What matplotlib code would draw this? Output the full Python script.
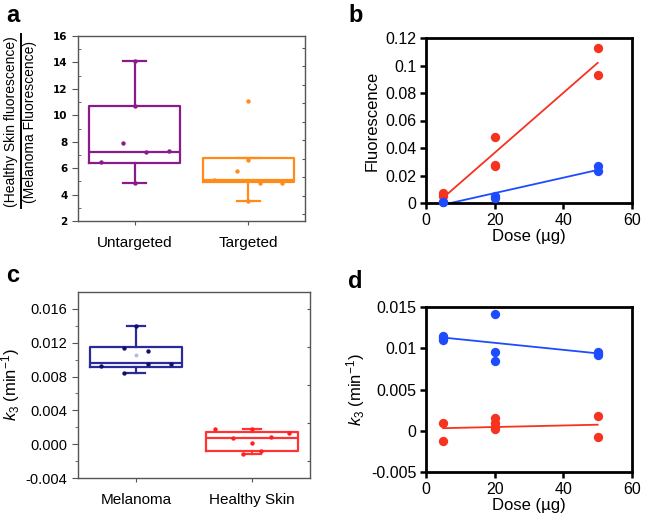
import numpy as np
import matplotlib
matplotlib.use('Agg')
import matplotlib.pyplot as plt
from matplotlib.lines import Line2D

plt.rcParams['font.family'] = ['Liberation Sans', 'DejaVu Sans']
plt.rcParams['mathtext.fontset'] = 'custom'
plt.rcParams['mathtext.rm'] = 'Liberation Sans'
plt.rcParams['mathtext.it'] = 'Liberation Sans:italic'

# panel a: fluorescence ratio boxes
a_groups = ['Untargeted', 'Targeted']
a_box = [  # whislo, q1, med, q3, whishi
    [4.9, 6.4, 7.25, 10.7, 14.1],
    [3.55, 4.95, 5.1, 6.75, 6.75],
]
a_points = [
    [6.5, 7.9, 10.7, 14.1, 4.9, 7.2, 7.3],
    [5.1, 5.8, 6.6, 11.1, 3.5, 4.9, 4.9],
]
a_offsets = [-0.3, -0.1, 0.0, 0.0, 0.0, 0.1, 0.3]
a_colors = ['#8b1a8b', '#ff8c1a']

# panel b: fluorescence vs dose
b_red_x = [5, 5, 20, 20, 20, 50, 50]
b_red_y = [0.007, 0.005, 0.048, 0.028, 0.027, 0.113, 0.093]
b_blue_x = [5, 5, 20, 20, 50, 50]
b_blue_y = [0.001, 0.0005, 0.005, 0.0035, 0.027, 0.023]

# panel c: k3 boxes
c_groups = ['Melanoma', 'Healthy Skin']
c_box = [
    [0.0084, 0.0091, 0.0096, 0.0115, 0.0140],
    [-0.0012, -0.0008, 0.0007, 0.0014, 0.0018],
]
c_means = [0.0105, 0.0001]
c_points = [
    [0.0092, 0.0114, 0.0084, 0.0140, 0.0110, 0.0095, 0.0095],
    [0.0018, 0.0007, -0.0012, 0.0001, 0.0018, -0.0008, 0.0008, 0.0013],
]
c_offsets = [
    [-0.3, -0.1, -0.1, 0.0, 0.1, 0.1, 0.3],
    [-0.32, -0.16, -0.08, 0.0, 0.0, 0.08, 0.16, 0.32],
]
c_colors = ['#2a2a9a', '#ff3333']
c_dot_colors = ['#10106e', '#ff2020']

# panel d: k3 vs dose
d_blue_x = [5, 5, 5, 20, 20, 20, 50, 50, 50]
d_blue_y = [0.0113, 0.0110, 0.0115, 0.0141, 0.0096, 0.0084, 0.0096, 0.0093, 0.0092]
d_red_x = [5, 5, 20, 20, 20, 20, 50, 50]
d_red_y = [0.0009, -0.0012, 0.0015, 0.0010, 0.0005, 0.0002, 0.0018, -0.0008]

RED = '#f5331f'
BLUE = '#1f4bff'

W, H = 645, 531
fig = plt.figure(figsize=(W / 100, H / 100), dpi=100)


def px_axes(x0, y0, x1, y1):
	return fig.add_axes([x0 / W, 1 - y1 / H, (x1 - x0) / W, (y1 - y0) / H])


def box_panel(ax, boxes, colors, capw):
	stats = []
	for b in boxes:
		stats.append(dict(whislo=b[0], q1=b[1], med=b[2], q3=b[3], whishi=b[4], fliers=[]))
	for i, s in enumerate(stats):
		c = colors[i]
		ax.bxp([s], positions=[i + 1], widths=0.8, showfliers=False,
			boxprops=dict(color=c, lw=1.6), medianprops=dict(color=c, lw=1.6),
			whiskerprops=dict(color=c, lw=1.6), capprops=dict(color=c, lw=1.6),
			capwidths=capw)
	ax.set_xlim(0.5, 2.5)
	for sp in ax.spines.values():
		sp.set_color('#555555')
		sp.set_linewidth(1.0)


# ---- a
ax = px_axes(78, 36, 305, 221)
box_panel(ax, a_box, a_colors, 0.2)
for i, pts in enumerate(a_points):
	ax.scatter(np.array(a_offsets) + i + 1, pts, s=10, color=a_colors[i], zorder=3, lw=0)
ax.set_ylim(2, 16)
ax.set_yticks(range(2, 17, 2))
ax.set_yticks(range(3, 16, 2), minor=True)
ax.set_xticks([1, 2])
ax.set_xticklabels(a_groups, fontsize=11)
ax.tick_params(axis='y', labelsize=7.5, length=4, color='#555555')
ax.tick_params(axis='y', which='minor', length=2, direction='in', color='#555555')
ax.tick_params(axis='x', length=3, color='#555555', pad=8)
for t in ax.get_yticklabels():
	t.set_fontweight('bold')
	t.set_family('DejaVu Sans')
ax2 = ax.secondary_yaxis('right')
ax2.set_yticks(np.arange(2.5, 16, 1.4))
ax2.tick_params(direction='in', length=2, labelright=False, color='#555555')
ax2.spines['right'].set_visible(False)

# stacked ratio label for panel a
fig.text(11 / W, 1 - 122 / H, '(Healthy Skin fluorescence)', rotation=90,
	ha='center', va='center', fontsize=10)
fig.text(30.5 / W, 1 - 122 / H, '(Melanoma Fluorescence)', rotation=90,
	ha='center', va='center', fontsize=10)
fig.add_artist(Line2D([20.5 / W, 20.5 / W], [1 - 208 / H, 1 - 34 / H], color='black', lw=1.4))

# ---- b
ax = px_axes(426, 38, 632, 203)
for xs, ys, c in [(b_red_x, b_red_y, RED), (b_blue_x, b_blue_y, BLUE)]:
	ax.scatter(xs, ys, s=45, color=c, zorder=3, lw=0, clip_on=False)
	p = np.polyfit(xs, ys, 1)
	xl = np.array([5, 50])
	ax.plot(xl, np.polyval(p, xl), color=c, lw=1.3)
ax.set_xlim(0, 60)
ax.set_ylim(0, 0.12)
ax.set_xticks([0, 20, 40, 60])
ax.set_yticks([0, 0.02, 0.04, 0.06, 0.08, 0.1, 0.12])
ax.set_yticklabels(['0', '0.02', '0.04', '0.06', '0.08', '0.1', '0.12'])
ax.set_xlabel('Dose (\u00b5g)', fontsize=12, labelpad=1)
ax.set_ylabel('Fluorescence', fontsize=12, labelpad=4)
ax.tick_params(labelsize=11.5, width=1.8, length=4, pad=3)
for sp in ax.spines.values():
	sp.set_linewidth(2)

# ---- c
ax = px_axes(78, 292, 310, 478)
box_panel(ax, c_box, c_colors, 0.15)
for i, pts in enumerate(c_points):
	ax.scatter(np.array(c_offsets[i]) + i + 1, pts, s=10, color=c_dot_colors[i], zorder=3, lw=0)
ax.scatter([1], [c_means[0]], s=8, color='#b8b8dd', zorder=3, lw=0)
ax.set_ylim(-0.004, 0.018)
ax.set_yticks([-0.004, 0.0, 0.004, 0.008, 0.012, 0.016])
ax.set_yticklabels(['-0.004', '0.000', '0.004', '0.008', '0.012', '0.016'])
ax.set_yticks(np.arange(-0.002, 0.018, 0.004), minor=True)
ax.set_xticks([1, 2])
ax.set_xticklabels(c_groups, fontsize=11)
ax.tick_params(axis='y', labelsize=10.5, length=4, color='#555555')
ax.tick_params(axis='y', which='minor', length=2, color='#555555')
ax.tick_params(axis='x', length=3, color='#555555', pad=8)
ax2 = ax.secondary_yaxis('right')
ax2.set_yticks(np.arange(-0.002, 0.018, 0.0045))
ax2.tick_params(direction='in', length=2, labelright=False, color='#555555')
ax2.spines['right'].set_visible(False)
ax.set_ylabel('$k_3$ (min$^{-1}$)', fontsize=12, labelpad=3)

# ---- d
ax = px_axes(426, 307, 632, 472)
for xs, ys, c in [(d_blue_x, d_blue_y, BLUE), (d_red_x, d_red_y, RED)]:
	ax.scatter(xs, ys, s=45, color=c, zorder=3, lw=0, clip_on=False)
	p = np.polyfit(xs, ys, 1)
	xl = np.array([5, 50])
	ax.plot(xl, np.polyval(p, xl), color=c, lw=1.3)
ax.set_xlim(0, 60)
ax.set_ylim(-0.005, 0.015)
ax.set_xticks([0, 20, 40, 60])
ax.set_yticks([-0.005, 0, 0.005, 0.01, 0.015])
ax.set_yticklabels(['-0.005', '0', '0.005', '0.01', '0.015'])
ax.set_xlabel('Dose (\u00b5g)', fontsize=12, labelpad=1)
ax.set_ylabel('$k_3$ (min$^{-1}$)', fontsize=12, labelpad=3)
ax.tick_params(labelsize=11.5, width=1.8, length=4, pad=3)
for sp in ax.spines.values():
	sp.set_linewidth(2)

# panel letters
for lab, x, y in [('a', 6, 22), ('b', 348, 22), ('c', 6, 282), ('d', 348, 288)]:
	fig.text(x / W, 1 - y / H, lab, fontsize=17, fontweight='bold', va='baseline')

fig.savefig('out.png', dpi=100)
